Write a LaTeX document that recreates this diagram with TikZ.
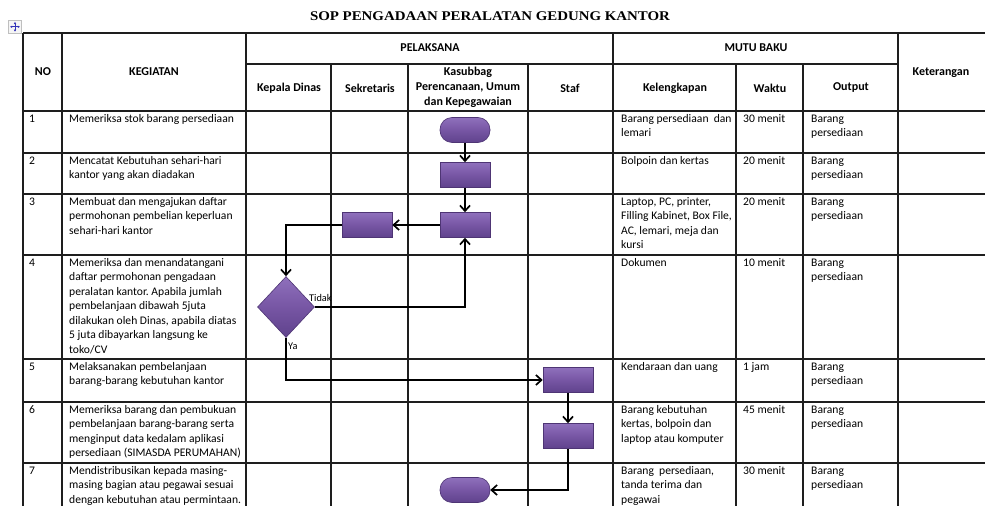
\documentclass[tikz,border=0pt]{standalone}
\usepackage{fontspec}
\setmainfont{Carlito}
\newfontfamily\titlefont[FakeStretch=1.12]{Liberation Serif}
\usetikzlibrary{shapes.geometric,arrows.meta}
\frenchspacing
\definecolor{plight}{HTML}{8F70BC}
\definecolor{pmid}{HTML}{7756A4}
\definecolor{pdark}{HTML}{5F428C}
\definecolor{pline}{HTML}{4E3574}
\definecolor{tline}{HTML}{1E1E1E}
\begin{document}
\begin{tikzpicture}[x=1pt,y=-1pt,
  grid/.style={draw=tline,line width=1.5pt},
  cell/.style={anchor=north west,inner sep=0pt,align=left,font=\fontsize{11.6}{14.5}\selectfont},
  hd/.style={inner sep=0pt,align=center,font=\bfseries\fontsize{12}{14.8}\selectfont},
  proc/.style={rectangle,minimum width=50pt,minimum height=25pt,inner sep=0pt,draw=pline,line width=0.6pt,top color=plight,bottom color=pdark,middle color=pmid},
  term/.style={proc,rounded corners=12pt},
  dec/.style={diamond,minimum width=57pt,minimum height=61pt,inner sep=0pt,draw=pline,line width=0.6pt,top color=plight,bottom color=pdark,middle color=pmid},
  conn/.style={line width=1.9pt,-{Straight Barb[length=5.5pt,width=10pt,line width=1.7pt]}},
  lbl/.style={inner sep=0pt,font=\fontsize{10.3}{11}\selectfont}
]
\useasboundingbox (0,0) rectangle (985,506);
% title
\node[font=\titlefont\bfseries\fontsize{13.3}{15}\selectfont] (title) at (490,16) {SOP PENGADAAN PERALATAN GEDUNG KANTOR};
% move icon
\draw[draw=gray!50,fill=gray!8,line width=0.6pt] (8.5,20.5) rectangle (21.5,33);
\draw[blue!65!black!80,line width=0.8pt,{Latex[length=2.2pt,width=2.6pt]}-{Latex[length=2.2pt,width=2.6pt]}] (10,26.8) -- (20,26.8);
\draw[blue!65!black!80,line width=0.8pt,{Latex[length=2.2pt,width=2.6pt]}-{Latex[length=2.2pt,width=2.6pt]}] (15,21.8) -- (15,31.8);
% table grid
\foreach \yy in {33,111,153,194,255,359,402,463} \draw[grid] (23,\yy) -- (985,\yy);
\draw[grid] (246,64) -- (898,64);
\foreach \xx in {23,62,246,613,898} \draw[grid] (\xx,33) -- (\xx,506);
\foreach \xx in {331,408,528,736,803} \draw[grid] (\xx,64) -- (\xx,506);
% headers
\node[hd] (hno) at (43,72) {NO};
\node[hd] (hkeg) at (154,72) {KEGIATAN};
\node[hd] (hpel) at (430,48) {PELAKSANA};
\node[hd] (hmutu) at (756,48) {MUTU BAKU};
\node[hd] (hket) at (941,73) {Keterangan};
\node[hd] (hkd) at (289,88) {Kepala Dinas};
\node[hd] (hsek) at (370,88) {Sekretaris};
\node[hd] (hkas) at (468,87.5) {Kasubbag\\Perencanaan, Umum\\dan Kepegawaian};
\node[hd] (hstaf) at (570,88) {Staf};
\node[hd] (hkel) at (675,88) {Kelengkapan};
\node[hd] (hwak) at (770,88) {Waktu};
\node[hd] (hout) at (851,88) {Output};
% row 1
\node[cell] (n1) at (29,112) {\strut 1};
\node[cell] (k1) at (69,112) {\strut Memeriksa stok barang persediaan};
\node[cell] (l1) at (621,112) {\strut Barang persediaan\ \ dan\\lemari};
\node[cell] (w1) at (743,112) {\strut 30 menit};
\node[cell] (o1) at (811,112) {\strut Barang\\persediaan};
% row 2
\node[cell] (n2) at (29,154) {\strut 2};
\node[cell] (k2) at (69,154) {\strut Mencatat Kebutuhan sehari-hari\\kantor yang akan diadakan};
\node[cell] (l2) at (621,154) {\strut Bolpoin dan kertas};
\node[cell] (w2) at (743,154) {\strut 20 menit};
\node[cell] (o2) at (811,154) {\strut Barang\\persediaan};
% row 3
\node[cell] (n3) at (29,195) {\strut 3};
\node[cell] (k3) at (69,195) {\strut Membuat dan mengajukan daftar\\permohonan pembelian keperluan\\sehari-hari kantor};
\node[cell] (l3) at (621,195) {\strut Laptop, PC, printer,\\Filling Kabinet, Box File,\\AC, lemari, meja dan\\kursi};
\node[cell] (w3) at (743,195) {\strut 20 menit};
\node[cell] (o3) at (811,195) {\strut Barang\\persediaan};
% row 4
\node[cell] (n4) at (29,256) {\strut 4};
\node[cell] (k4) at (69,256) {\strut Memeriksa dan menandatangani\\daftar permohonan pengadaan\\peralatan kantor. Apabila jumlah\\pembelanjaan dibawah 5juta\\dilakukan oleh Dinas, apabila diatas\\5 juta dibayarkan langsung ke\\toko/CV};
\node[cell] (l4) at (621,256) {\strut Dokumen};
\node[cell] (w4) at (743,256) {\strut 10 menit};
\node[cell] (o4) at (811,256) {\strut Barang\\persediaan};
% row 5
\node[cell] (n5) at (29,360) {\strut 5};
\node[cell] (k5) at (69,360) {\strut Melaksanakan pembelanjaan\\barang-barang kebutuhan kantor};
\node[cell] (l5) at (621,360) {\strut Kendaraan dan uang};
\node[cell] (w5) at (743,360) {\strut 1 jam};
\node[cell] (o5) at (811,360) {\strut Barang\\persediaan};
% row 6
\node[cell] (n6) at (29,403) {\strut 6};
\node[cell] (k6) at (69,403) {\strut Memeriksa barang dan pembukuan\\pembelanjaan barang-barang serta\\menginput data kedalam aplikasi\\persediaan (SIMASDA PERUMAHAN)};
\node[cell] (l6) at (621,403) {\strut Barang kebutuhan\\kertas, bolpoin dan\\laptop atau komputer};
\node[cell] (w6) at (743,403) {\strut 45 menit};
\node[cell] (o6) at (811,403) {\strut Barang\\persediaan};
% row 7
\node[cell] (n7) at (29,464) {\strut 7};
\node[cell] (k7) at (69,464) {\strut Mendistribusikan kepada masing-\\masing bagian atau pegawai sesuai\\dengan kebutuhan atau permintaan.};
\node[cell] (l7) at (621,464) {\strut Barang\ \ persediaan,\\tanda terima dan\\pegawai};
\node[cell] (w7) at (743,464) {\strut 30 menit};
\node[cell] (o7) at (811,464) {\strut Barang\\persediaan};
% flowchart shapes
\node[term] (t1) at (465,130) {};
\node[proc] (r2) at (465,175) {};
\node[proc] (r3) at (465,225) {};
\node[proc] (rs) at (367,225) {};
\node[dec] (d) at (286,307) {};
\node[proc] (r5) at (568,380) {};
\node[proc] (r6) at (568,436) {};
\node[term] (t7) at (465,490) {};
% connectors
\draw[conn] (t1) -- (r2);
\draw[conn] (r2) -- (r3);
\draw[conn] (r3) -- (rs);
\draw[conn] (rs.west) -| (d.north);
\draw[conn] (d.east) -| (r3.south);
\draw[conn] (d.south) |- (r5.west);
\draw[conn] (r5) -- (r6);
\draw[conn] (r6.south) |- (t7.east);
% labels
\node[lbl,anchor=west] (tidak) at (309,298) {Tidak};
\node[lbl,anchor=west] (ya) at (288,346) {Ya};
\end{tikzpicture}
\end{document}
